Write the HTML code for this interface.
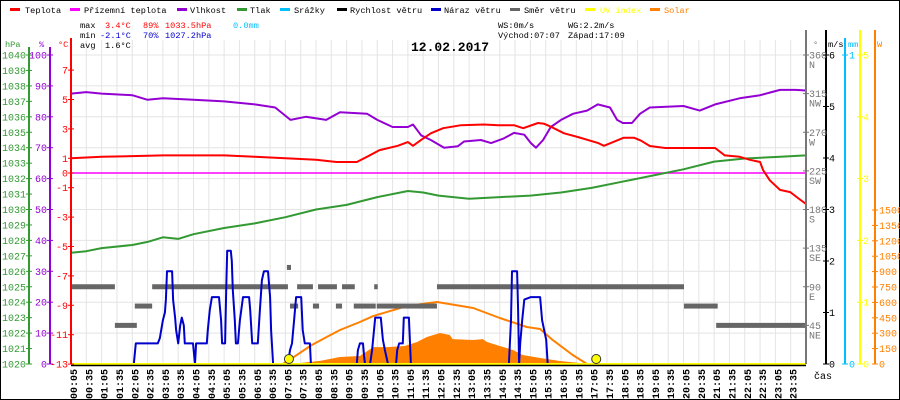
<!DOCTYPE html>
<html><head><meta charset="utf-8"><style>
body{margin:0;background:#fff}
svg{display:block;font-family:"Liberation Mono",monospace}
</style></head><body>
<svg id="c" width="900" height="400" viewBox="0 0 900 400" xmlns="http://www.w3.org/2000/svg">
<rect x="0.5" y="0.5" width="899" height="399" fill="#fff" stroke="#000"/>
<g id="grid"></g>
<g id="legend" font-size="8.6">
<g><rect x="10" y="8" width="10" height="3" fill="#f00"/><text x="25" y="13">Teplota</text></g>
<g><rect x="70" y="8" width="10" height="3" fill="#f0f"/><text x="84" y="13">Přízemní teplota</text></g>
<g><rect x="177" y="8" width="10" height="3" fill="#9400d3"/><text x="190" y="13">Vlhkost</text></g>
<g><rect x="237" y="8" width="10" height="3" fill="#339933"/><text x="250" y="13">Tlak</text></g>
<g><rect x="280" y="8" width="10" height="3" fill="#00bfff"/><text x="294" y="13">Srážky</text></g>
<g><rect x="337" y="8" width="10" height="3" fill="#000"/><text x="350" y="13">Rychlost větru</text></g>
<g><rect x="431" y="8" width="10" height="3" fill="#00c"/><text x="444" y="13">Náraz větru</text></g>
<g><rect x="510" y="8" width="10" height="3" fill="#666"/><text x="524" y="13">Směr větru</text></g>
<g><rect x="585" y="8" width="10" height="3" fill="#ff0"/><text x="600" y="13" fill="#ff0">UV index</text></g>
<g><rect x="650" y="8" width="10" height="3" fill="#ff8000"/><text x="664" y="13" fill="#ff8000">Solar</text></g>
</g>
<g font-size="8.6">
<text x="80" y="28">max</text><text x="105" y="28" fill="#f00">3.4°C</text><text x="143" y="28" fill="#f00">89%</text><text x="165" y="28" fill="#f00">1033.5hPa</text><text x="233" y="28" fill="#00bfff">0.0mm</text>
<text x="80" y="38">min</text><text x="100" y="38" fill="#00c">-2.1°C</text><text x="143" y="38" fill="#00c">70%</text><text x="165" y="38" fill="#00c">1027.2hPa</text>
<text x="80" y="48">avg</text><text x="105" y="48">1.6°C</text>
<text x="498" y="28">WS:0m/s</text><text x="568" y="28">WG:2.2m/s</text>
<text x="498" y="38">Východ:07:07</text><text x="568" y="38">Západ:17:09</text>
</g>
<text x="450" y="51" text-anchor="middle" font-size="13" font-weight="bold">12.02.2017</text>
<g id="series"></g>
<g id="axes" font-size="10"></g>
</svg>
<script>
// ---- data ----
const tempT=[0,60,120,180,240,300,360,420,480,520,560,580,604,640,660,670,686,705,729,764,809,837,868,886,915,927,940,966,993,1032,1044,1058,1083,1103,1117,1134,1164,1262,1281,1310,1330,1350,1356,1369,1389,1409,1428,1440];
const tempV=[1.0,1.1,1.15,1.2,1.2,1.2,1.1,1.0,0.9,0.75,0.75,1.1,1.55,1.85,2.1,1.85,2.25,2.7,3.05,3.25,3.3,3.25,3.25,3.05,3.4,3.35,3.15,2.7,2.45,2.05,1.85,2.05,2.4,2.4,2.2,1.84,1.7,1.7,1.2,1.1,0.9,0.75,0.2,-0.5,-1.15,-1.3,-1.8,-2.1];
const humT=[0,30,60,120,150,180,240,300,360,400,430,460,500,527,580,600,630,660,670,686,705,731,758,770,803,823,848,868,888,901,911,925,940,960,984,1011,1032,1056,1070,1081,1099,1115,1134,1200,1232,1262,1310,1350,1389,1420,1440];
const humV=[87.5,88,87.5,87,85.5,86,85.5,85,84,83,79,80,79,81.5,81,79,76.7,76.7,77.5,74,72.5,70,70.5,72,72.5,71.5,73,74.8,74.2,71.5,70,72.5,76.7,79,81,82,84,83,79,78,78,81,83,83.5,82,84,86,87,88.7,88.7,88.5];
const presT=[0,30,60,120,150,180,210,240,300,360,420,480,540,600,660,690,720,780,840,900,960,1020,1080,1140,1200,1260,1320,1380,1440];
const presV=[1027.2,1027.3,1027.5,1027.7,1027.9,1028.2,1028.1,1028.4,1028.8,1029.1,1029.5,1030.0,1030.3,1030.8,1031.2,1031.1,1030.9,1030.7,1030.8,1030.9,1031.1,1031.4,1031.8,1032.2,1032.6,1033.1,1033.3,1033.4,1033.5];
const gustT=[0,123,127,170,174,180,184,186,188,198,200,204,206,210,214,217,221,223,239,243,245,266,268,272,276,290,294,296,302,304,306,313,315,317,321,323,327,331,337,349,351,355,366,370,374,378,386,390,392,396,425,429,433,437,441,451,454,458,468,470,560,562,566,572,574,576,586,590,596,607,611,615,621,637,639,643,650,652,662,666,858,862,864,874,876,878,880,884,888,901,919,923,931,934,1440];
const gustV=[0,0,0.4,0.4,0.5,0.85,1.0,1.25,1.8,1.8,1.25,0.9,0.66,0.4,0.75,0.9,0.75,0.4,0.4,0,0.4,0.4,0.66,1.05,1.3,1.3,0.85,0.4,0.4,1.44,2.2,2.2,2.0,1.44,0.85,0.4,0.4,0.85,1.3,1.3,1.05,0.4,0.4,1.05,1.63,1.8,1.8,1.3,0.66,0,0,0.27,0.4,0.85,1.3,1.3,0.66,0.4,0.4,0,0,0.27,0.4,0.4,0.17,0,0,0.27,0.9,0.9,0.47,0.27,0,0,0.27,0.4,0.4,0.9,0.9,0,0,0.85,1.8,1.8,1.05,0,0.4,0.85,1.25,1.3,1.3,0.85,0.47,0,0];
const dirStart=[0,2,86,125,159,423,429,443,474,484,519,531,554,594,599,717,1201,1264];
const dirEnd=[2,86,129,159,425,431,445,474,486,521,531,556,597,601,717,1201,1267,1440];
const dirDeg=[101,90,45,67.5,90,112.5,67.5,90,67.5,90,67.5,90,67.5,90,67.5,90,67.5,45];
const solarT=[415,449,488,527,566,592,619,654,678,697,723,742,748,788,807,815,840,866,885,919,958,997,1011];
const solarV=[0,10,30,68,78,165,165,175,214,263,302,282,243,234,243,214,175,136,88,58,29,10,0];
const theoT=[415,440,470,500,527,566,592,658,717,788,840,893,919,944,983,1011];
const theoV=[0,80,180,260,331,409,467,565,604,545,448,360,341,233,88,0];
const sunEvents=[427,1029];
const xTickLabels=["00:05","00:35","01:05","01:35","02:05","02:35","03:05","03:35","04:05","04:35","05:05","05:35","06:05","06:35","07:05","07:35","08:05","08:35","09:05","09:35","10:05","10:35","11:05","11:35","12:05","12:35","13:05","13:35","14:05","14:35","15:05","15:35","16:05","16:35","17:05","17:35","18:05","18:35","19:05","19:35","20:05","20:35","21:05","21:35","22:05","22:35","23:05","23:35"];
const hpaTicks=[1040,1039,1038,1037,1036,1035,1034,1033,1032,1031,1030,1029,1028,1027,1026,1025,1024,1023,1022,1021,1020];
const humTicks=[100,90,80,70,60,50,40,30,20,10,0];
const tempTicks=[7,5,3,1,0,-1,-3,-5,-7,-9,-11,-13];
const dirTicks=[360,315,270,225,180,135,90,45];
const dirNames=["N","NW","W","SW","S","SE","E","NE"];
const windTicks=[6,5,4,3,2,1,0];
const uvTicks=[5,4,3,2,1,0];
const wTicks=[1500,1350,1200,1050,900,750,600,450,300,150,0];

// ---- scales ----
const X0=71,PW=735,YB=364,YT=55;
const X=t=>X0+t*PW/1440;
const yTemp=v=>173-v*14.7;
const yHum=v=>YB-v*(YB-YT)/100;
const yPres=v=>YB-(v-1020)*(YB-YT)/20;
const yWind=v=>YB-v*(YB-YT)/6;
const yDir=v=>YB-v*(YB-YT)/360;
const yUV=v=>YB-v*(YB-YT)/5;
const ySol=v=>YB-v*154/1500;
const NS="http://www.w3.org/2000/svg";
function mk(tag,attrs,parent){const e=document.createElementNS(NS,tag);for(const k in attrs)e.setAttribute(k,attrs[k]);parent.appendChild(e);return e;}
const grid=document.getElementById('grid'),ser=document.getElementById('series'),ax=document.getElementById('axes');

for(let t=30;t<1440;t+=30){const l=mk('line',{x1:X(t),x2:X(t),y1:40,y2:YB,stroke:'#e4e4e4'},grid);

}
humTicks.forEach(h=>{const l=mk('line',{x1:X0,x2:806,y1:yHum(h),y2:yHum(h),stroke:'#e4e4e4'},grid);

});

function poly(T,V,fy,col,w,name){const p=T.map((t,i)=>X(t).toFixed(1)+','+fy(V[i]).toFixed(1)).join(' ');
const e=mk('polyline',{points:p,fill:'none',stroke:col,'stroke-width':w,'stroke-linejoin':'round'},ser);

return e;}

{const p=[X(solarT[0])+','+YB].concat(solarT.map((t,i)=>X(t).toFixed(1)+','+ySol(solarV[i]).toFixed(1))).concat([X(solarT[solarT.length-1])+','+YB]).join(' ');
const e=mk('polygon',{points:p,fill:'#ff8000'},ser);

}
poly(theoT,theoV,ySol,'#ff8000',2,'solar-theoretical-line');
dirDeg.forEach((d,i)=>{const e=mk('rect',{x:X(dirStart[i]),y:yDir(d)-2.5,width:X(dirEnd[i])-X(dirStart[i]),height:5,fill:'#666'},ser);

});
{const e=mk('line',{x1:X0,x2:806,y1:yTemp(0),y2:yTemp(0),stroke:'#f0f','stroke-width':1.5},ser);

}
poly(presT,presV,yPres,'#339933',2,'pressure-line');
poly(humT,humV,yHum,'#9400d3',2,'humidity-line');
poly(tempT,tempV,yTemp,'#f00',2,'temperature-line');
poly(gustT,gustV,yWind,'#0000cc',2,'wind-gust-line');
{const e=mk('line',{x1:X0,x2:806,y1:YB,y2:YB,stroke:'#ff0','stroke-width':2},ser);

}
{const e=mk('line',{x1:X0,x2:806,y1:YB+1.5,y2:YB+1.5,stroke:'#000','stroke-width':1.5},ser);

}
sunEvents.forEach(t=>{const e=mk('circle',{cx:X(t),cy:359,r:4.5,fill:'#ff0',stroke:'#333','stroke-width':1},ser);

});

function vaxis(x,y1,col,name){const e=mk('line',{x1:x,x2:x,y1:y1,y2:YB,stroke:col,'stroke-width':2},ax);

}
function tick(x,y,col,lab,tx,anchor,name){mk('line',{x1:x-3,x2:x+3,y1:y,y2:y,stroke:col},ax);
const t=mk('text',{x:tx,y:y+3.5,fill:col,'text-anchor':anchor},ax);t.textContent=lab;

}
vaxis(29,47,'#339933','hpa-axis');vaxis(50,47,'#9400d3','humidity-axis');vaxis(71,38,'#f00','temperature-axis');
vaxis(806,30,'#777','direction-axis');vaxis(826,30,'#000','wind-axis');vaxis(845,38,'#00bfff','rain-axis');vaxis(860,30,'#ff0','uv-axis');vaxis(875,30,'#ff8000','solar-axis');
hpaTicks.forEach(v=>tick(29,yPres(v),'#339933',String(v),26,'end','hpa-tick-label'));
humTicks.forEach(v=>tick(50,yHum(v),'#9400d3',String(v),47,'end','humidity-tick-label'));
tempTicks.forEach(v=>tick(71,yTemp(v),'#f00',String(v),68,'end','temperature-tick-label'));
dirTicks.forEach((v,i)=>{tick(806,yDir(v),'#777',String(v),809,'start','direction-tick-label');
const t=mk('text',{x:809,y:yDir(v)+13,fill:'#777'},ax);t.textContent=dirNames[i];

});
windTicks.forEach(v=>tick(826,yWind(v),'#000',String(v),829,'start','wind-tick-label'));
[1,0].forEach(v=>tick(845,YB-v*(YB-YT),'#00bfff',String(v),849,'start','rain-tick-label'));
uvTicks.forEach(v=>tick(860,yUV(v),'#ff0',String(v),863,'start','uv-tick-label'));
wTicks.forEach(v=>tick(875,ySol(v),'#ff8000',String(v),879,'start','solar-tick-label'));
[['hPa',5,'#339933'],['%',39,'#9400d3'],['°C',58,'#f00'],['°',813,'#777'],['m/s',828,'#000'],['mm',848,'#00bfff'],['W',877,'#ff8000']].forEach(a=>{
const t=mk('text',{x:a[1],y:47,fill:a[2],'font-size':'8.6'},ax);t.textContent=a[0];

});
xTickLabels.forEach((s,i)=>{const x=X(5+30*i)+3.5;
const t=mk('text',{x:x,y:369,'text-anchor':'end','font-weight':'bold',transform:`rotate(-90 ${x} 369)`},ax);t.textContent=s;

});
{const t=mk('text',{x:814,y:379},ax);t.textContent='čas';

}
</script>
</body></html>
